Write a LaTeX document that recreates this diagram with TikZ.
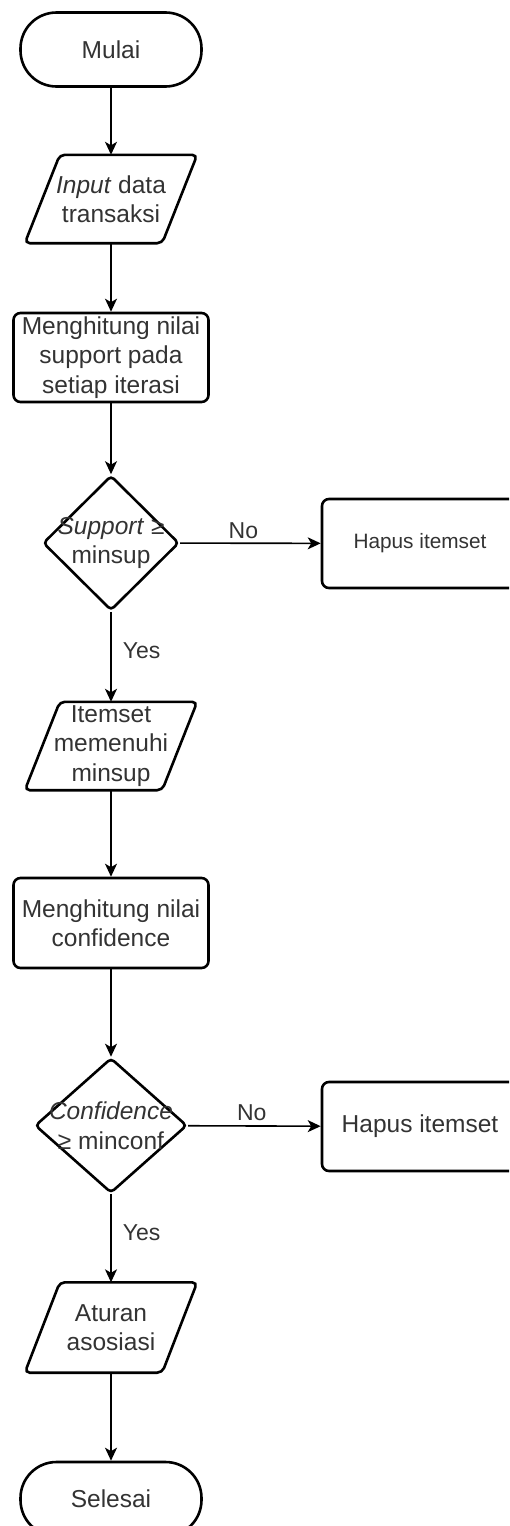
\documentclass[tikz,border=0pt]{standalone}
\usepackage{fontspec}
\setmainfont{Liberation Sans}
\usepackage{tikz}
\usetikzlibrary{arrows.meta,shapes.geometric}

\begin{document}
\begin{tikzpicture}[
  x=1pt, y=1pt,
  font=\fontsize{24.5}{29.5}\selectfont,
  shp/.style  ={draw=black, line width=2.6pt},
  term/.style ={shp, rounded corners=36pt, minimum width=181pt, minimum height=74pt, inner sep=0pt, text=black!80},
  io/.style   ={minimum width=137pt, minimum height=88pt, inner sep=0pt, align=center, text=black!80},
  proc/.style ={shp, rounded corners=7pt, minimum width=195pt, minimum height=89pt,
                inner sep=0pt, align=center, text=black!80},
  dec/.style  ={shp, diamond, rounded corners=4pt, minimum height=135pt, inner sep=-20pt,
                align=center, text=black!80},
  flow/.style ={-{Stealth[length=13pt,width=12pt,inset=3.5pt]}, line width=1.6pt, draw=black},
  lbl/.style  ={font=\fontsize{23}{27}\selectfont, text=black!80, inner sep=1pt},
]
\useasboundingbox (0,0) rectangle (509,-1526);
\clip (0,0) rectangle (509,-1526);

% ============ MAIN COLUMN ============
\node[term] (mulai) at (111,-49.5) {Mulai};
\node[io] (inp) at (111,-199) {\textit{Input} data\\transaksi};
\node[proc] (hitsup) at (111,-357.5) {Menghitung nilai\\support pada\\setiap iterasi};
\node[dec, minimum width=136pt] (sup) at (111,-543) {\textit{Support} ≥\\minsup};
\node[io] (itm) at (111,-746) {Itemset\\memenuhi\\minsup};
\node[proc, minimum height=90pt] (hitconf) at (111,-923) {Menghitung nilai\\confidence};
\node[dec, minimum width=152pt] (conf) at (111,-1125.5) {\textit{Confidence}\\≥ minconf};
\node[io, minimum height=90pt] (atr) at (111,-1327.5) {Aturan\\asosiasi};
\node[term] (selesai) at (111,-1499) {Selesai};

% ============ REJECT BOXES ============
\node[proc, minimum width=196pt, font=\fontsize{20.8}{25}\selectfont] (hapus1) at (420,-543.5) {Hapus itemset};
\node[proc, minimum width=196pt] (hapus2) at (420,-1126.5) {Hapus itemset};

% parallelogram outlines
\foreach \n in {inp,itm,atr}
  \draw[shp, rounded corners=5pt] ([xshift=17.5pt]\n.north west) -- ([xshift=17.5pt]\n.north east)
    -- ([xshift=-17.5pt]\n.south east) -- ([xshift=-17.5pt]\n.south west) -- cycle;

% ============ CONNECTORS ============
\draw[flow] (mulai) -- (inp);
\draw[flow] (inp) -- (hitsup);
\draw[flow] (hitsup) -- (sup);
\draw[flow] (sup) -- (hapus1) node[lbl, pos=.45, above=3pt]{No};
\draw[flow] (sup) -- (itm) node[lbl, pos=.43, right=10pt]{Yes};
\draw[flow] (itm) -- (hitconf);
\draw[flow] (hitconf) -- (conf);
\draw[flow] (conf) -- (hapus2) node[lbl, pos=.48, above=3pt]{No};
\draw[flow] (conf) -- (atr) node[lbl, pos=.44, right=10pt]{Yes};
\draw[flow] (atr) -- (selesai);

\end{tikzpicture}
\end{document}
